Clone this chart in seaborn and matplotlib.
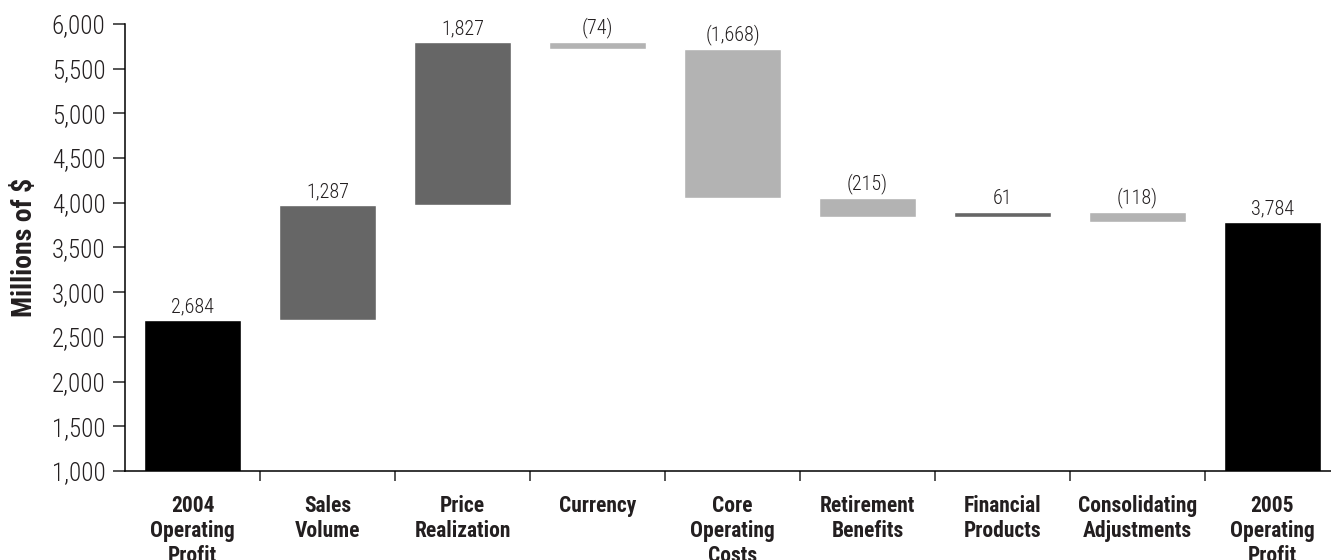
import numpy as np
import pandas as pd
import seaborn as sns
import matplotlib.pyplot as plt
from matplotlib import font_manager as fm
from matplotlib.ticker import FuncFormatter, FixedLocator

categories = ["2004\nOperating\nProfit", "Sales\nVolume", "Price\nRealization", "Currency",
              "Core\nOperating\nCosts", "Retirement\nBenefits", "Financial\nProducts",
              "Consolidating\nAdjustments", "2005\nOperating\nProfit"]
start_value = 2684
changes = [1287, 1827, -74, -1668, -215, 61, -118]
end_value = 3784

# waterfall levels
cum = start_value + np.cumsum([0] + changes)
low = np.concatenate([[0], np.minimum(cum[:-1], cum[1:]), [0]])
high = np.concatenate([[start_value], np.maximum(cum[:-1], cum[1:]), [end_value]])
values = [start_value] + changes + [end_value]
labels = [f"{v:,}" if v >= 0 else f"({-v:,})" for v in values]
kind = ["total"] + ["up" if c > 0 else "down" for c in changes] + ["total"]

df = pd.DataFrame({"category": categories, "low": low, "high": high, "kind": kind})

sns.set_style("white")
# condensed font, pick what is installed
installed = {f.name for f in fm.fontManager.ttflist}
narrow = [f for f in ["Nimbus Sans Narrow", "Liberation Sans Narrow", "Roboto Condensed",
                      "Archivo Narrow", "Barlow Condensed", "Liberation Sans"] if f in installed]
plt.rcParams["font.family"] = narrow[:1] + ["DejaVu Sans"]
txt = "#231f20"

fig = plt.figure(figsize=(13.31, 5.6), dpi=100)
ax = fig.add_axes([125 / 1331, 89 / 560, 1215 / 1331, 447 / 560])

pal = {"total": "#000000", "up": "#666666", "down": "#b3b3b3"}
sns.barplot(data=df, x="category", y="high", hue="kind", palette=pal, dodge=False,
            width=0.72, legend=False, ax=ax, saturation=1)
sns.barplot(data=df, x="category", y="low", color="white", width=0.74, ax=ax, saturation=1)

for i, (h, lab) in enumerate(zip(high, labels)):
    ax.text(i, h + 45, lab, ha="center", va="bottom", fontsize=14.5, color=txt,
            fontweight="light")

ax.set_xlim(-0.5, 8.5)
ax.set_ylim(1000, 6000)
ax.set_yticks(range(1000, 6001, 500))
ax.yaxis.set_major_formatter(FuncFormatter(lambda v, p: f"{int(v):,}"))
ax.tick_params(axis="y", length=9, width=1.1, direction="out", left=True, labelsize=18,
               labelcolor=txt, pad=5)
for t in ax.get_yticklabels():
    t.set_fontweight("light")
ax.xaxis.set_minor_locator(FixedLocator(np.arange(0.5, 8.5, 1)))
ax.tick_params(axis="x", which="minor", length=7.5, width=1.1, direction="out", bottom=True)
ax.tick_params(axis="x", which="major", length=0, pad=17)
ax.set_xticks(range(len(categories)))
ax.set_xticklabels(categories, fontsize=15.5, fontweight="bold", color=txt, linespacing=1.2,
                   va="top")
ax.set_xlabel("")
ax.set_ylabel("Millions of $", fontsize=20, fontweight="bold", color=txt, labelpad=10)

for s in ["top", "right"]:
    ax.spines[s].set_visible(False)
for s in ["left", "bottom"]:
    ax.spines[s].set_color("black")
    ax.spines[s].set_linewidth(1.1)

fig.savefig("out.png", dpi=100)
